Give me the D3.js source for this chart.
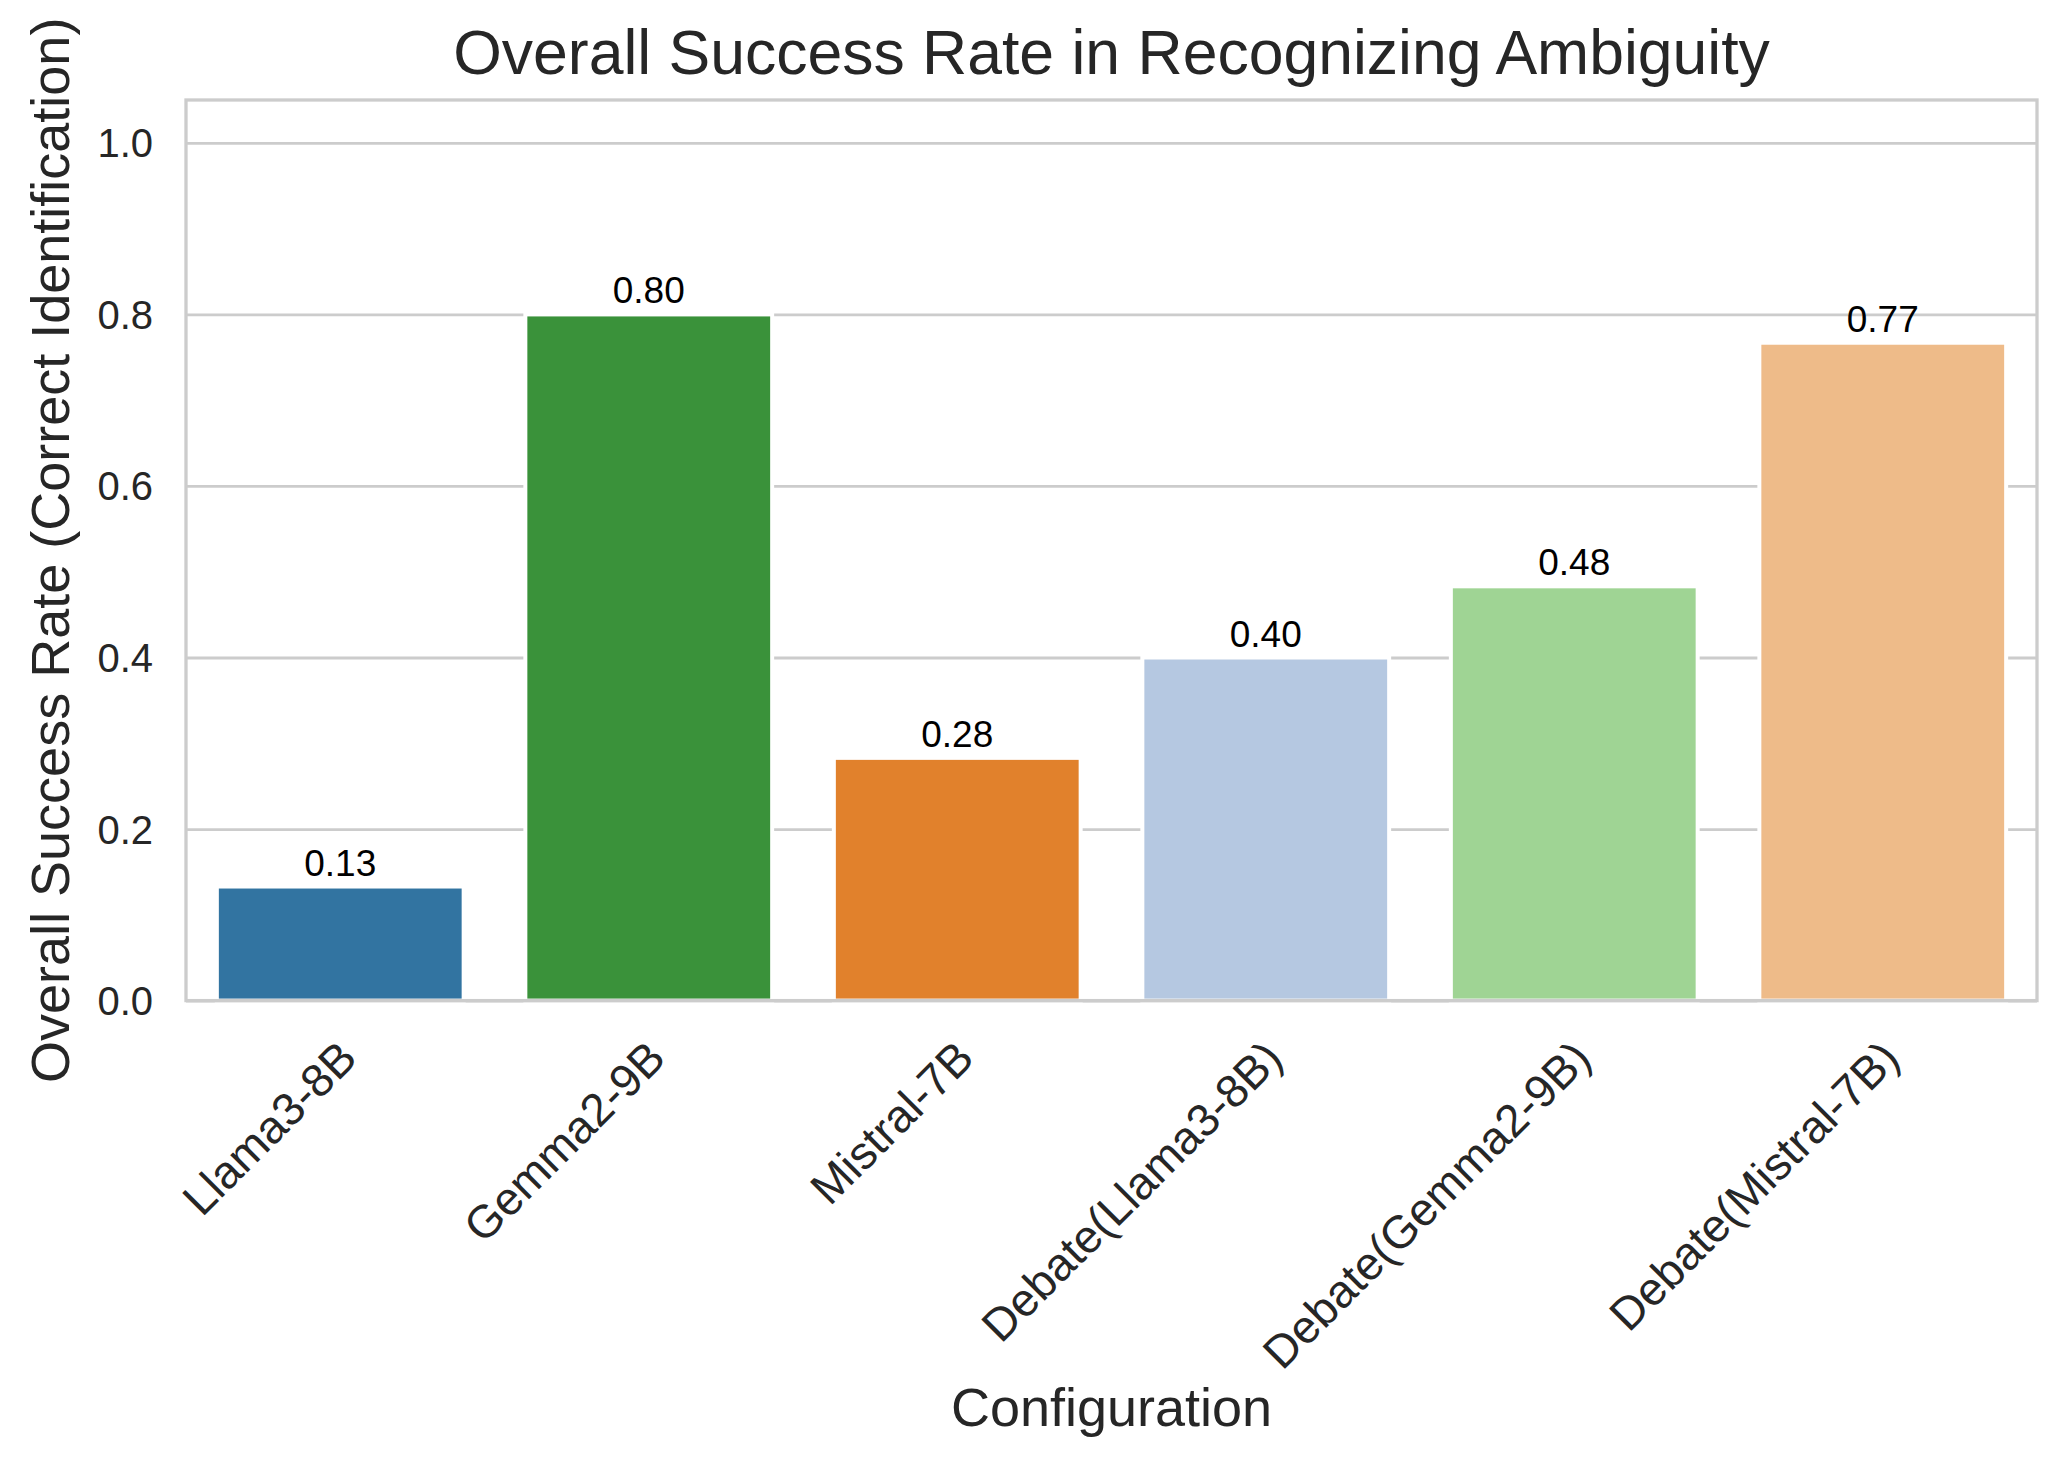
<!DOCTYPE html>
<html>
<head>
<meta charset="utf-8">
<script src="https://cdn.jsdelivr.net/npm/d3@7"></script>
<style>
  body { margin: 0; background: #ffffff; }
  svg { display: block; font-family: "Liberation Sans", Arial, sans-serif; }
</style>
</head>
<body>
<div id="vizDiv"></div>
<script>
var width = 2067
var height = 1468

// data
var categories = ["Llama3-8B", "Gemma2-9B", "Mistral-7B", "Debate(Llama3-8B)", "Debate(Gemma2-9B)", "Debate(Mistral-7B)"]
var successRates = [0.133, 0.800, 0.283, 0.400, 0.483, 0.767]
var barColors = ["#3274a1", "#3a923a", "#e1812c", "#b5c8e1", "#9fd494", "#eebb89"]
var yTicks = [0.0, 0.2, 0.4, 0.6, 0.8, 1.0]

var plotLeft = 186
var plotRight = 2037
var plotTop = 100
var plotBottom = 1000.6
var gridColor = "#cccccc"
var textColor = "#262626"

var svg = d3.select("#vizDiv")
  .append("svg")
  .attr("width", width)
  .attr("height", height)

var x = d3.scaleBand()
  .domain(categories)
  .range([plotLeft, plotRight])
  .paddingInner(0.2)
  .paddingOuter(0.1)

var y = d3.scaleLinear()
  .domain([0, 1.05])
  .range([plotBottom, plotTop])

// horizontal grid lines
var grid = svg.append("g")
  .attr("transform", "translate(" + plotLeft + ",0)")
  .call(d3.axisLeft(y).tickValues(yTicks).tickSize(-(plotRight - plotLeft)).tickFormat(""))
grid.select(".domain").remove()
grid.selectAll("line")
  .attr("stroke", gridColor)
  .attr("stroke-width", 2.8)

// bars
svg.selectAll(".bar")
  .data(successRates)
  .enter()
  .append("rect")
  .attr("class", "bar")
  .attr("x", function(d, i) { return x(categories[i]) })
  .attr("y", function(d) { return y(d) })
  .attr("width", x.bandwidth())
  .attr("height", function(d) { return y(0) - y(d) })
  .attr("fill", function(d, i) { return barColors[i] })
  .attr("stroke", "#ffffff")
  .attr("stroke-width", 4)

// frame around plot area
svg.append("rect")
  .attr("x", plotLeft)
  .attr("y", plotTop)
  .attr("width", plotRight - plotLeft)
  .attr("height", plotBottom - plotTop)
  .attr("fill", "none")
  .attr("stroke", gridColor)
  .attr("stroke-width", 3.3)

// value labels on top of bars
svg.selectAll(".valueLabel")
  .data(successRates)
  .enter()
  .append("text")
  .attr("class", "valueLabel")
  .attr("x", function(d, i) { return x(categories[i]) + x.bandwidth() / 2 })
  .attr("y", function(d) { return y(d) - 11 })
  .attr("text-anchor", "middle")
  .attr("fill", "#000000")
  .style("font-size", "37px")
  .text(function(d) { return d.toFixed(2) })

// y axis tick labels
var yAxis = svg.append("g")
  .attr("transform", "translate(" + plotLeft + ",0)")
  .call(d3.axisLeft(y).tickValues(yTicks).tickSize(0).tickPadding(33).tickFormat(d3.format(".1f")))
yAxis.select(".domain").remove()
yAxis.selectAll("text")
  .attr("fill", textColor)
  .attr("dy", "0.35em")
  .style("font-size", "40px")
  .style("font-family", "\"Liberation Sans\", Arial, sans-serif")

// x axis tick labels, rotated
var xAxis = svg.append("g")
  .attr("transform", "translate(0," + plotBottom + ")")
  .call(d3.axisBottom(x).tickSize(0).tickPadding(0))
xAxis.select(".domain").remove()
xAxis.selectAll("text")
  .attr("x", 0)
  .attr("y", 0)
  .attr("dy", 0)
  .attr("transform", "translate(19,60) rotate(-45)")
  .style("text-anchor", "end")
  .attr("fill", textColor)
  .style("font-size", "46px")
  .style("font-family", "\"Liberation Sans\", Arial, sans-serif")

// title and axis titles
svg.append("text")
  .attr("x", (plotLeft + plotRight) / 2)
  .attr("y", 74)
  .attr("text-anchor", "middle")
  .attr("fill", textColor)
  .style("font-size", "62.5px")
  .text("Overall Success Rate in Recognizing Ambiguity")

svg.append("text")
  .attr("x", (plotLeft + plotRight) / 2)
  .attr("y", 1426)
  .attr("text-anchor", "middle")
  .attr("fill", textColor)
  .style("font-size", "54px")
  .text("Configuration")

svg.append("text")
  .attr("transform", "translate(69," + (plotTop + plotBottom) / 2 + ") rotate(-90)")
  .attr("text-anchor", "middle")
  .attr("fill", textColor)
  .style("font-size", "54px")
  .text("Overall Success Rate (Correct Identification)")
</script>
</body>
</html>
